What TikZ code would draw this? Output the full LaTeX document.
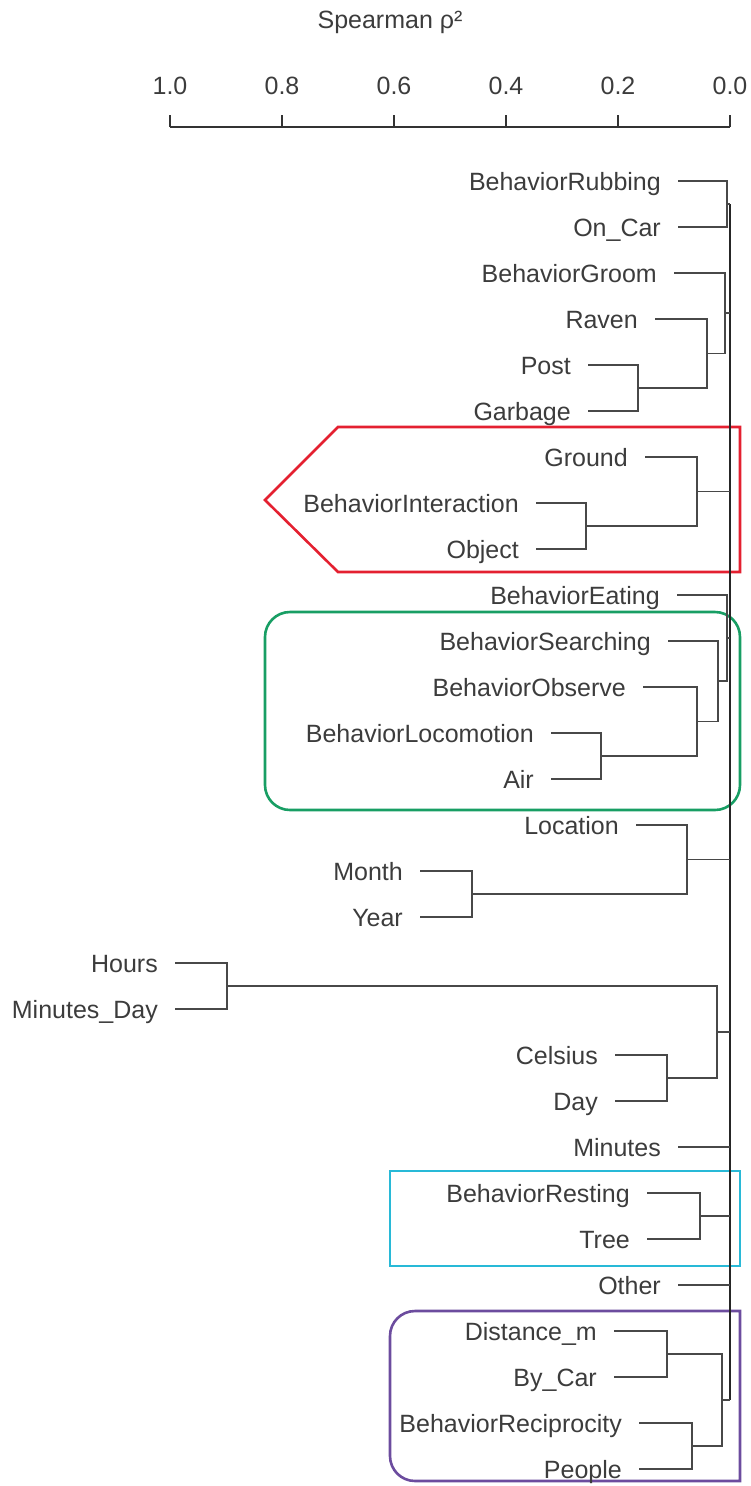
\documentclass[tikz,border=0pt]{standalone}
\usepackage{fontspec}
\setmainfont{Liberation Sans}

\definecolor{labelgray}{RGB}{60,60,60}
\definecolor{branchgray}{RGB}{72,72,72}
\definecolor{boxred}{RGB}{228,32,48}
\definecolor{boxgreen}{RGB}{24,158,100}
\definecolor{boxcyan}{RGB}{40,185,215}
\definecolor{boxpurple}{RGB}{108,76,158}

\tikzstyle{leaf} = [anchor=east, inner xsep=17pt, inner ysep=0pt, text height=18pt, text depth=0pt, text=labelgray, font=\fontsize{25}{30}\selectfont]
\tikzstyle{ticklabel} = [inner sep=0pt, text=labelgray, font=\fontsize{25}{30}\selectfont]
\tikzstyle{branch} = [draw=branchgray, line width=1.8pt]
\tikzstyle{trunk} = [draw=black!85, line width=1.8pt]
\tikzstyle{axis} = [draw=black!80, line width=1.6pt]
\tikzstyle{frame} = [line width=2.6pt]

\begin{document}
\begin{tikzpicture}[x=1pt, y=-1pt]
\useasboundingbox (0,0) rectangle (751,1486);

% highlighted groups
\draw[frame, draw=boxred] (338,427) -- (740,427) -- (740,572) -- (338,572) -- (265,500) -- cycle;
\draw[frame, draw=boxgreen, rounded corners=25pt] (265,612) rectangle (740,810);
\draw[frame, draw=boxcyan] (390,1171) rectangle (740,1266);
\draw[frame, draw=boxpurple] (740,1311) -- (415,1311) arc[start angle=270, end angle=180, radius=25]
  -- (390,1456) arc[start angle=180, end angle=90, radius=25] -- (740,1481) -- cycle;

% axis
\node[ticklabel] (title) at (390,22) {Spearman ρ²};
\draw[axis] (170,127) -- (730,127);
\foreach \v [count=\i] in {1.0,0.8,0.6,0.4,0.2,0.0} {
  \node[ticklabel] (tick\i) at ({730-560*\v},86) {\v};
  \draw[axis] ({730-560*\v},115) -- ({730-560*\v},127);
}

% trunk
\coordinate (top) at (730,204);
\coordinate (bottom) at (730,1400);
\draw[trunk] (top) -- (bottom);

% Rubbing / On_Car
\node[leaf] (rub) at (678,181) {BehaviorRubbing};
\node[leaf] (oncar) at (678,227) {On\_Car};
\coordinate (rc) at (727,204);
\draw[branch] (rub.east) -| (rc) (oncar.east) -| (rc);
\draw[branch] (rc) -- (rc -| top);

% Groom ... Garbage
\node[leaf] (groom) at (674,273) {BehaviorGroom};
\node[leaf] (raven) at (655,319) {Raven};
\node[leaf] (post) at (588,365) {Post};
\node[leaf] (garb) at (588,411) {Garbage};
\coordinate (pg) at (638,388);
\coordinate (rpg) at (707,353.5);
\coordinate (grpg) at (725,313);
\draw[branch] (post.east) -| (pg) (garb.east) -| (pg);
\draw[branch] (raven.east) -| (rpg) (pg) -| (rpg);
\draw[branch] (groom.east) -| (grpg) (rpg) -| (grpg);
\draw[branch] (grpg) -- (grpg -| top);

% red group
\node[leaf] (ground) at (645,457) {Ground};
\node[leaf] (inter) at (536,503) {BehaviorInteraction};
\node[leaf] (obj) at (536,549) {Object};
\coordinate (io) at (586,526);
\coordinate (gio) at (697,491.5);
\draw[branch] (inter.east) -| (io) (obj.east) -| (io);
\draw[branch] (ground.east) -| (gio) (io) -| (gio);
\draw[branch] (gio) -- (gio -| top);

% green group
\node[leaf] (eat) at (677,595) {BehaviorEating};
\node[leaf] (search) at (668,641) {BehaviorSearching};
\node[leaf] (obs) at (643,687) {BehaviorObserve};
\node[leaf] (loco) at (551,733) {BehaviorLocomotion};
\node[leaf] (air) at (551,779) {Air};
\coordinate (la) at (601,756);
\coordinate (ola) at (697,721.5);
\coordinate (sola) at (718,681);
\coordinate (esola) at (727,638);
\draw[branch] (loco.east) -| (la) (air.east) -| (la);
\draw[branch] (obs.east) -| (ola) (la) -| (ola);
\draw[branch] (search.east) -| (sola) (ola) -| (sola);
\draw[branch] (eat.east) -| (esola) (sola) -| (esola);
\draw[branch] (esola) -- (esola -| top);

% Location / Month / Year
\node[leaf] (loc) at (636,825) {Location};
\node[leaf] (month) at (420,871) {Month};
\node[leaf] (year) at (420,917) {Year};
\coordinate (my) at (472,894);
\coordinate (lmy) at (687,859.5);
\draw[branch] (month.east) -| (my) (year.east) -| (my);
\draw[branch] (loc.east) -| (lmy) (my) -| (lmy);
\draw[branch] (lmy) -- (lmy -| top);

% Hours ... Day
\node[leaf] (hours) at (175,963) {Hours};
\node[leaf] (minday) at (175,1009) {Minutes\_Day};
\node[leaf] (cels) at (615,1055) {Celsius};
\node[leaf] (day) at (615,1101) {Day};
\coordinate (hm) at (227,986);
\coordinate (cd) at (667,1078);
\coordinate (hmcd) at (717,1032);
\draw[branch] (hours.east) -| (hm) (minday.east) -| (hm);
\draw[branch] (cels.east) -| (cd) (day.east) -| (cd);
\draw[branch] (hm) -| (hmcd) (cd) -| (hmcd);
\draw[branch] (hmcd) -- (hmcd -| top);

% Minutes, cyan group, Other
\node[leaf] (minutes) at (678,1147) {Minutes};
\draw[branch] (minutes.east) -- (minutes.east -| top);
\node[leaf] (rest) at (647,1193) {BehaviorResting};
\node[leaf] (tree) at (647,1239) {Tree};
\coordinate (rt) at (700,1216);
\draw[branch] (rest.east) -| (rt) (tree.east) -| (rt);
\draw[branch] (rt) -- (rt -| top);
\node[leaf] (other) at (678,1285) {Other};
\draw[branch] (other.east) -- (other.east -| top);

% purple group
\node[leaf] (dist) at (614,1331) {Distance\_m};
\node[leaf] (bycar) at (614,1377) {By\_Car};
\node[leaf] (recip) at (639,1423) {BehaviorReciprocity};
\node[leaf] (people) at (639,1469) {People};
\coordinate (db) at (667,1354);
\coordinate (rp) at (692,1446);
\coordinate (dbrp) at (722,1400);
\draw[branch] (dist.east) -| (db) (bycar.east) -| (db);
\draw[branch] (recip.east) -| (rp) (people.east) -| (rp);
\draw[branch] (db) -| (dbrp) (rp) -| (dbrp);
\draw[branch] (dbrp) -- (bottom);
\end{tikzpicture}
\end{document}
